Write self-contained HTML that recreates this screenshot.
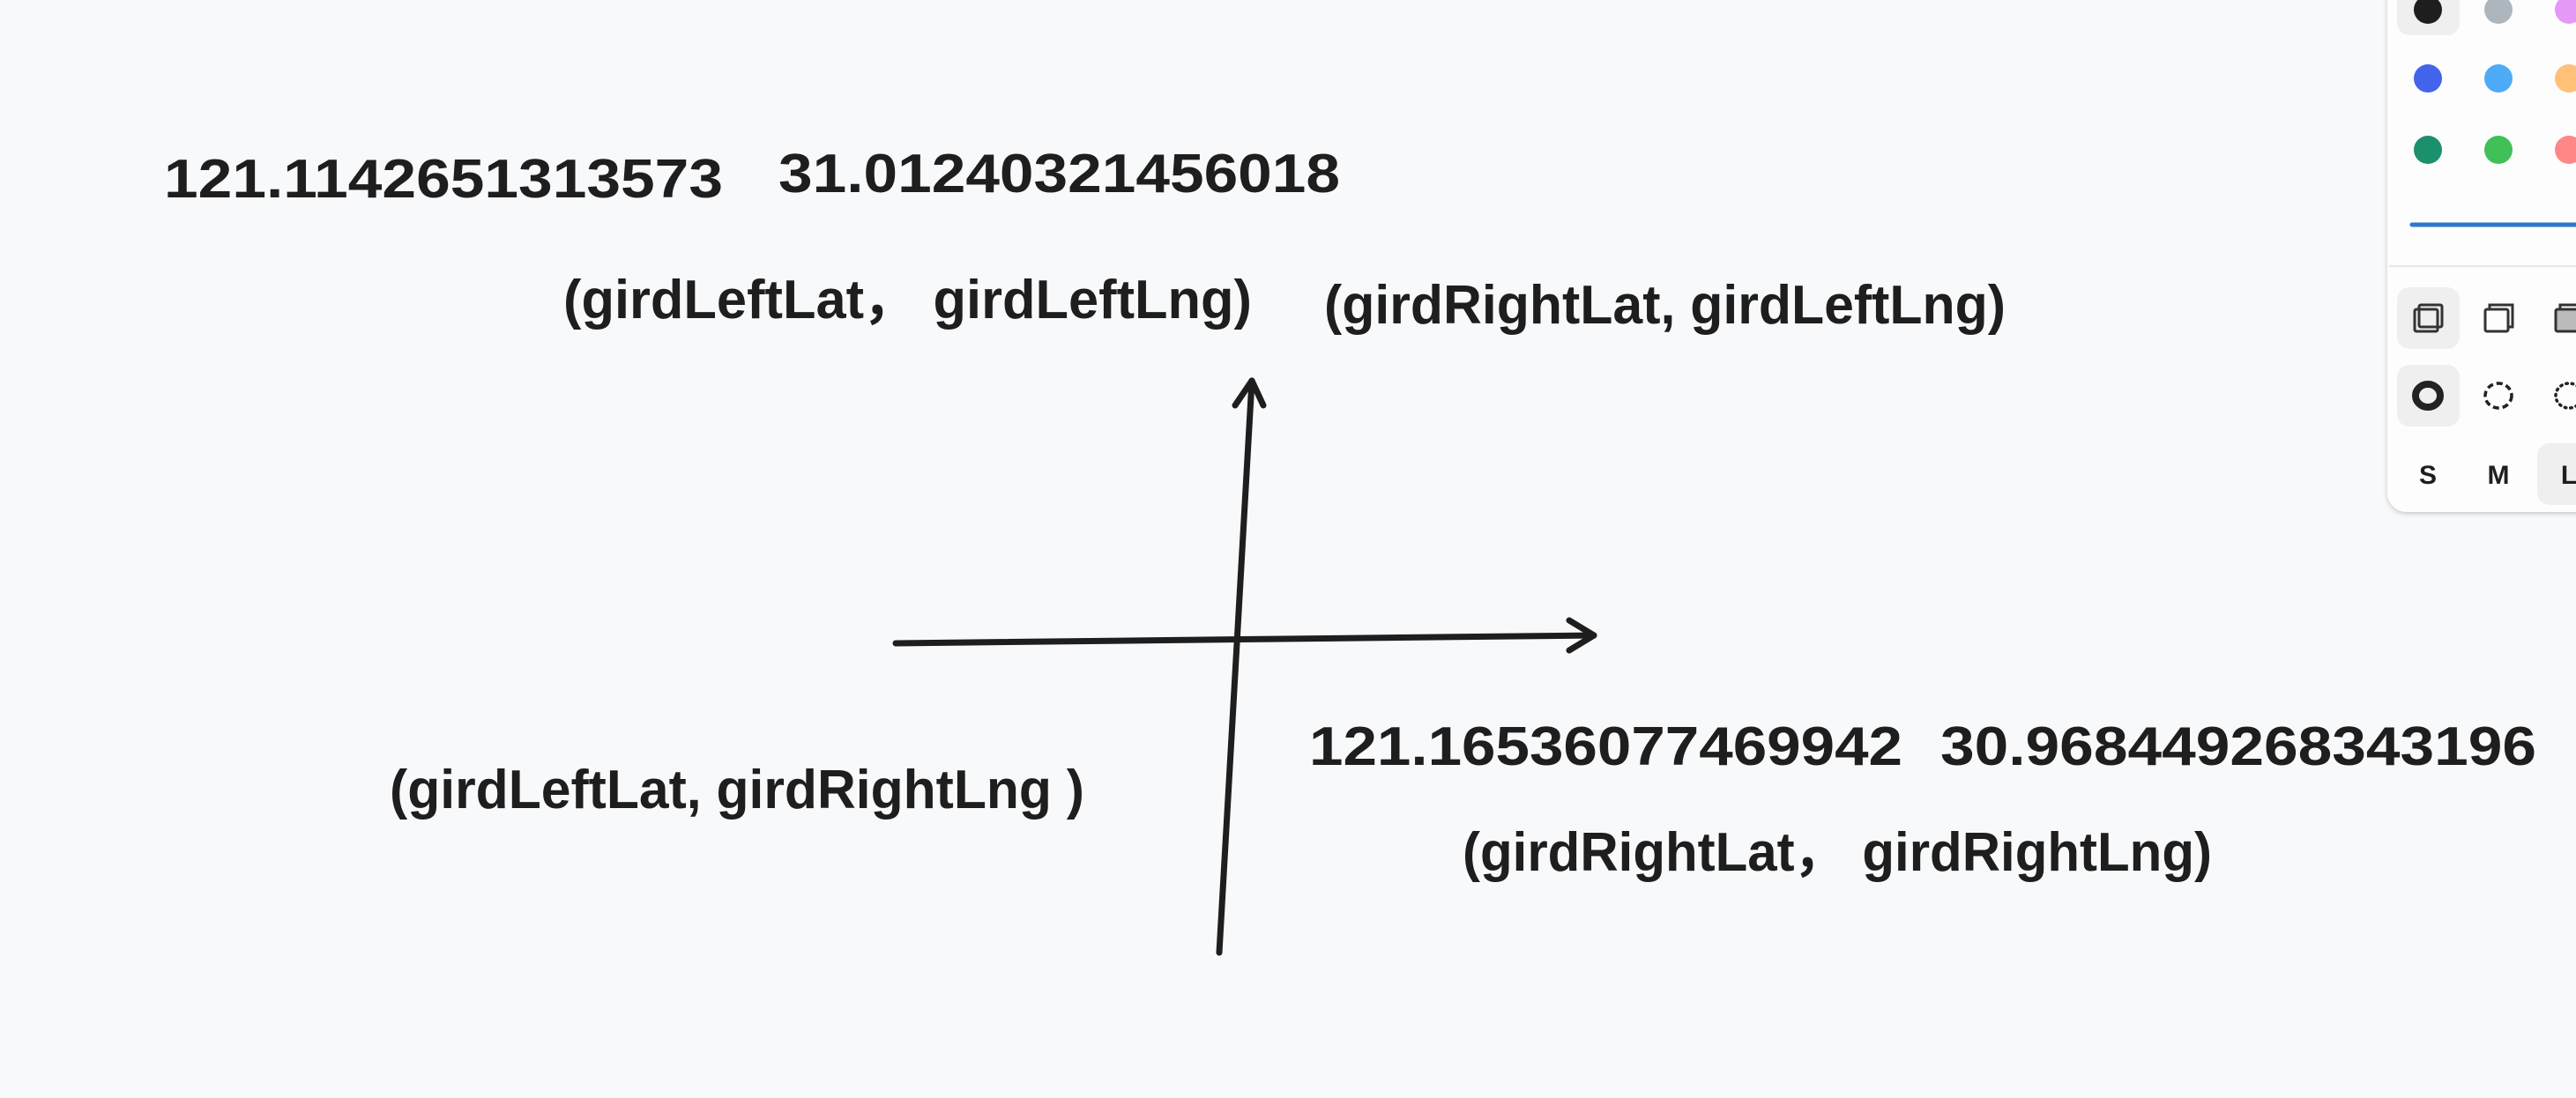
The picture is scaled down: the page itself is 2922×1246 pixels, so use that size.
<!DOCTYPE html>
<html><head><meta charset="utf-8"><style>
html,body{margin:0;padding:0;background:#f8f9fb;}
svg{display:block}
text{font-family:"Liberation Sans",sans-serif;font-weight:bold;fill:#1e1e1e}
</style></head><body>
<svg width="2922" height="1246" viewBox="0 0 2922 1246" xmlns="http://www.w3.org/2000/svg">
<rect width="2922" height="1246" fill="#f8f9fb"/>
<g font-size="62">
<text x="186" y="224" textLength="634" lengthAdjust="spacingAndGlyphs">121.1142651313573</text>
<text x="883" y="218" textLength="637" lengthAdjust="spacingAndGlyphs">31.01240321456018</text>
<text x="1485" y="868" textLength="673" lengthAdjust="spacingAndGlyphs">121.16536077469942</text>
<text x="2201" y="868" textLength="676" lengthAdjust="spacingAndGlyphs">30.968449268343196</text>
</g>
<g font-size="62">
<text x="639" y="361" textLength="781" lengthAdjust="spacingAndGlyphs">(girdLeftLat，  girdLeftLng)</text>
<text x="1502" y="367" textLength="773" lengthAdjust="spacingAndGlyphs">(girdRightLat, girdLeftLng)</text>
<text x="442" y="917" textLength="788" lengthAdjust="spacingAndGlyphs">(girdLeftLat, girdRightLng )</text>
<text x="1659" y="988" textLength="850" lengthAdjust="spacingAndGlyphs">(girdRightLat，  girdRightLng)</text>
</g>
<g stroke="#1e1e1e" stroke-width="7" stroke-linecap="round" stroke-linejoin="round" fill="none">
<path d="M1383 1081 L1420 432"/>
<path d="M1401 460 L1420 432 L1433 460"/>
<path d="M1016 730 L1808 721"/>
<path d="M1780 704 L1808 721 L1780 738"/>
</g>
<defs><filter id="sh" x="-20%" y="-20%" width="140%" height="140%"><feDropShadow dx="0" dy="2" stdDeviation="3" flood-color="#000" flood-opacity="0.2"/></filter></defs>
<rect x="2708" y="-30" width="300" height="611" rx="22" fill="#fdfdfd" filter="url(#sh)"/>
<rect x="2719" y="-30" width="71" height="70" rx="14" fill="#efefef"/>
<circle cx="2754" cy="11" r="16" fill="#1e1e1e"/>
<circle cx="2834" cy="11" r="16" fill="#adb5bd"/>
<circle cx="2914" cy="11" r="16" fill="#e599f7"/>
<circle cx="2754" cy="89" r="16" fill="#4263eb"/>
<circle cx="2834" cy="89" r="16" fill="#4dabf7"/>
<circle cx="2914" cy="89" r="16" fill="#ffc078"/>
<circle cx="2754" cy="170" r="16" fill="#1c8f6d"/>
<circle cx="2834" cy="170" r="16" fill="#40c057"/>
<circle cx="2914" cy="170" r="16" fill="#ff8787"/>
<line x1="2736" y1="255" x2="2922" y2="255" stroke="#2f74d0" stroke-width="5" stroke-linecap="round"/>
<line x1="2710" y1="302" x2="2922" y2="302" stroke="#e6e6e6" stroke-width="2"/>
<rect x="2719" y="326" width="71" height="70" rx="14" fill="#efefef"/>
<g fill="none" stroke="#333" stroke-width="3">
<rect x="2739" y="351" width="26" height="25" rx="2"/>
<rect x="2744" y="346" width="26" height="25" rx="2"/>
<rect x="2819" y="351" width="26" height="25" rx="2"/>
<path d="M2824 351 V346 H2850 V371 H2845"/>
<rect x="2899" y="351" width="26" height="25" rx="2" fill="#bbb"/>
<path d="M2904 351 V346 H2922"/>
</g>
<rect x="2719" y="414" width="71" height="70" rx="14" fill="#efefef"/>
<ellipse cx="2754" cy="449" rx="14" ry="13" fill="none" stroke="#222" stroke-width="8"/>
<ellipse cx="2834" cy="449" rx="15" ry="14" fill="none" stroke="#222" stroke-width="3.5" stroke-dasharray="7 4"/>
<ellipse cx="2914" cy="449" rx="15" ry="14" fill="none" stroke="#222" stroke-width="3.5" stroke-dasharray="1.5 5" stroke-linecap="round"/>
<rect x="2878" y="503" width="60" height="70" rx="14" fill="#efefef"/>
<g font-size="30" text-anchor="middle">
<text x="2754" y="549" fill="#222">S</text>
<text x="2834" y="549" fill="#222">M</text>
<text x="2914" y="549" fill="#222">L</text>
</g>
</svg>
</body></html>
